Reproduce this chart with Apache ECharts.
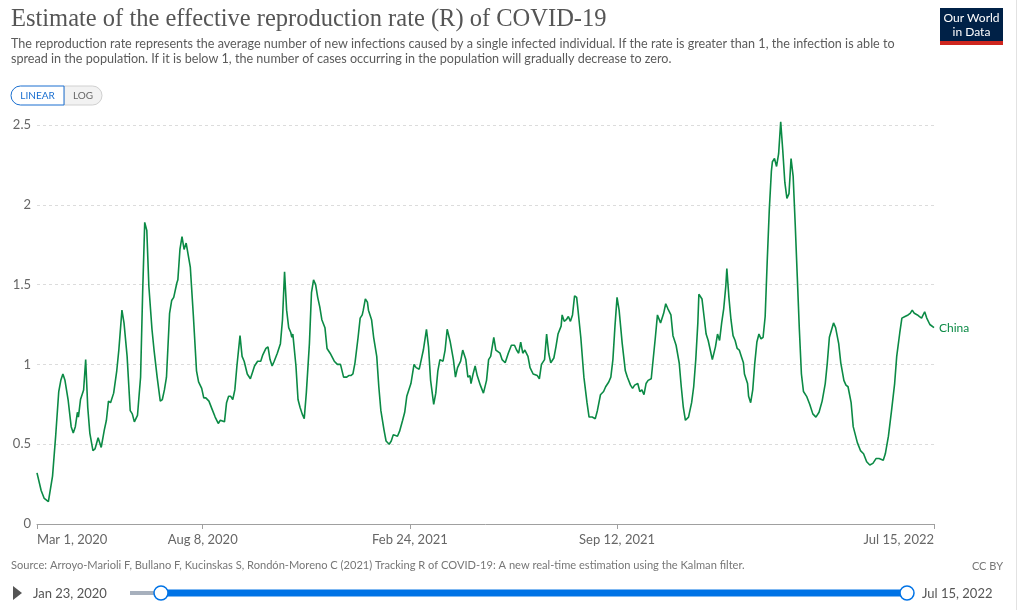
<!DOCTYPE html>
<html>
<head>
<meta charset="utf-8">
<script src="https://cdn.jsdelivr.net/npm/echarts@6/dist/echarts.min.js"></script>
<style>
html,body{margin:0;padding:0;background:#fff;}
#chart{width:1021px;height:610px;}
</style>
</head>
<body>
<div id="chart"></div>
<script>
// ---- Data ----
const START_DATE = '2020-03-01';
const END_DATE = '2022-07-15';
const seriesName = 'China';
// days since START_DATE
const dayOffsets = [0,4,7,11,15,18,21,23,25,27,30,33,35,37,39,40,42,45,47,49,51,54,56,59,62,65,67,69,71,74,77,79,82,84,87,90,92,94,97,100,102,104,106,108,111,113,116,119,121,123,125,128,130,132,135,136,138,140,142,144,145,148,151,154,156,159,161,163,166,169,172,175,177,181,183,185,187,189,191,193,196,198,200,203,206,208,210,213,216,218,221,223,225,227,229,232,235,237,239,241,243,245,246,247,250,252,254,256,258,260,263,265,267,269,271,273,275,278,280,283,287,290,293,296,299,301,303,305,307,310,312,314,315,317,319,320,323,325,328,330,332,335,337,340,342,344,348,350,353,355,357,361,364,366,369,371,373,376,378,380,383,385,387,389,392,394,396,399,402,404,406,409,411,414,416,418,419,421,423,425,428,431,434,436,438,441,443,447,449,452,455,458,461,463,465,467,469,471,474,476,479,483,485,487,490,492,494,496,499,501,503,506,507,509,511,513,515,517,519,521,522,525,528,531,533,536,539,541,544,547,549,552,554,556,558,560,562,565,568,570,573,575,577,580,582,584,586,588,590,593,595,597,599,602,605,607,609,612,614,617,620,622,624,626,629,632,634,636,638,639,642,644,646,648,650,652,655,657,659,661,663,665,666,668,670,672,674,676,678,680,682,683,686,687,689,691,693,695,697,699,701,703,705,707,709,710,712,714,716,718,720,722,724,726,728,730,732,734,736,738,740,743,746,749,752,755,758,761,763,765,769,771,774,776,779,781,783,786,788,792,795,798,801,804,807,810,813,817,819,822,825,828,830,833,835,838,841,843,845,847,850,852,854,857,859,862,866];
const rValues = [0.32,0.21,0.16,0.14,0.30,0.55,0.83,0.90,0.94,0.90,0.78,0.61,0.57,0.61,0.70,0.67,0.78,0.84,1.03,0.73,0.57,0.46,0.47,0.54,0.48,0.59,0.65,0.77,0.76,0.82,0.96,1.09,1.34,1.26,1.05,0.71,0.69,0.64,0.68,0.92,1.45,1.89,1.84,1.49,1.22,1.09,0.92,0.77,0.78,0.84,0.92,1.32,1.40,1.42,1.51,1.53,1.72,1.80,1.72,1.76,1.75,1.61,1.30,0.96,0.89,0.85,0.79,0.79,0.77,0.72,0.67,0.63,0.65,0.64,0.76,0.80,0.80,0.78,0.84,0.99,1.18,1.05,1.02,0.94,0.91,0.95,0.99,1.02,1.02,1.06,1.10,1.11,1.03,0.99,1.02,1.07,1.13,1.28,1.58,1.34,1.23,1.20,1.17,1.19,0.99,0.78,0.73,0.69,0.66,0.82,1.13,1.45,1.53,1.50,1.42,1.36,1.28,1.23,1.10,1.07,1.02,1.00,1.00,0.92,0.92,0.93,0.93,0.94,1.01,1.17,1.29,1.31,1.34,1.41,1.39,1.34,1.28,1.17,1.05,0.86,0.71,0.59,0.52,0.50,0.52,0.56,0.55,0.58,0.65,0.70,0.80,0.88,1.00,0.98,0.97,1.03,1.09,1.22,1.11,0.90,0.75,0.82,0.96,1.03,1.02,1.09,1.22,1.14,1.03,0.92,0.98,1.02,1.09,1.03,0.92,0.93,0.88,0.94,0.99,0.93,0.87,0.82,0.90,1.03,1.05,1.17,1.09,1.07,1.03,1.01,1.07,1.12,1.12,1.09,1.07,1.14,1.07,1.09,1.05,0.98,0.94,0.93,0.91,1.00,1.03,1.19,1.07,1.01,1.04,1.11,1.19,1.24,1.31,1.27,1.28,1.30,1.27,1.31,1.43,1.42,1.36,1.17,0.92,0.76,0.67,0.67,0.66,0.71,0.81,0.83,0.86,0.89,0.92,1.03,1.24,1.42,1.34,1.13,0.96,0.92,0.87,0.85,0.87,0.88,0.83,0.84,0.81,0.88,0.90,0.91,1.04,1.17,1.31,1.26,1.32,1.38,1.35,1.31,1.18,1.12,1.01,0.86,0.73,0.65,0.67,0.76,0.86,1.03,1.26,1.44,1.41,1.30,1.19,1.15,1.09,1.03,1.11,1.19,1.15,1.26,1.35,1.49,1.60,1.42,1.28,1.18,1.15,1.10,1.09,1.05,1.01,0.94,0.88,0.80,0.76,0.84,1.01,1.14,1.19,1.16,1.17,1.30,1.65,1.97,2.21,2.27,2.29,2.24,2.32,2.52,2.34,2.14,2.04,2.07,2.29,2.18,1.88,1.55,1.22,0.94,0.83,0.80,0.75,0.69,0.67,0.70,0.77,0.88,1.01,1.17,1.26,1.23,1.13,1.01,0.90,0.87,0.86,0.76,0.61,0.51,0.46,0.44,0.39,0.37,0.38,0.41,0.41,0.40,0.44,0.55,0.71,0.88,1.05,1.20,1.29,1.30,1.31,1.32,1.34,1.32,1.31,1.30,1.29,1.33,1.29,1.25,1.23];
const xTickDates = ['2020-03-01','2020-08-08','2021-02-24','2021-09-12','2022-07-15'];
const yTicks = [0, 0.5, 1, 1.5, 2, 2.5];

// ---- Build ----
const DAY = 86400000;
const startMs = Date.parse(START_DATE + 'T00:00:00Z');
const endMs = Date.parse(END_DATE + 'T00:00:00Z');
const lineData = dayOffsets.map((d, i) => [startMs + d * DAY, rValues[i]]);
const tickMs = xTickDates.map(s => Date.parse(s + 'T00:00:00Z'));
const MONTHS = ['Jan','Feb','Mar','Apr','May','Jun','Jul','Aug','Sep','Oct','Nov','Dec'];
function fmtDate(ms){ const d = new Date(ms); return MONTHS[d.getUTCMonth()] + ' ' + d.getUTCDate() + ', ' + d.getUTCFullYear(); }

const GREEN = '#0b8a45';
const FONT = 'Lato, "Noto Sans", sans-serif';

const chart = echarts.init(document.getElementById('chart'), null, {renderer:'canvas'});
const option = {
  animation: false,
  backgroundColor: '#fff',
  grid: { left: 37, right: 87, top: 125, bottom: 86, containLabel: false },
  xAxis: {
    type: 'value',
    min: startMs, max: endMs,
    axisLine: { show: true, lineStyle: { color: '#a0a0a0', width: 1 } },
    axisTick: { show: true, customValues: tickMs, length: 5, lineStyle: { color: '#a0a0a0' } },
    axisLabel: {
      customValues: tickMs,
      formatter: v => fmtDate(v),
      color: '#666', fontSize: 13, fontFamily: FONT, margin: 9,
      alignMinLabel: 'left', alignMaxLabel: 'right', hideOverlap: false
    },
    splitLine: { show: false }
  },
  yAxis: {
    type: 'value', min: 0, max: 2.5, interval: 0.5,
    axisLine: { show: false }, axisTick: { show: false },
    axisLabel: { color: '#666', fontSize: 13, fontFamily: FONT, margin: 6, formatter: v => String(v) },
    splitLine: { show: true, lineStyle: { color: '#dcdcdc', type: [3, 3], width: 1 } }
  },
  series: [{
    name: seriesName,
    type: 'line',
    data: lineData,
    showSymbol: false,
    clip: false,
    lineStyle: { color: GREEN, width: 1.6 },
    itemStyle: { color: GREEN },
    endLabel: { show: true, formatter: seriesName, color: GREEN, fontSize: 12, fontFamily: FONT, distance: 5 }
  }],
  graphic: [
    { type: 'text', left: 11, top: 7, style: { text: 'Estimate of the effective reproduction rate (R) of COVID-19', fill: '#555', font: '24.5px "Liberation Serif", "DejaVu Serif", serif' } },
    { type: 'text', left: 11, top: 37, style: { text: 'The reproduction rate represents the average number of new infections caused by a single infected individual. If the rate is greater than 1, the infection is able to', fill: '#5b5b5b', font: '12.6px Lato, sans-serif' } },
    { type: 'text', left: 11, top: 52, style: { text: 'spread in the population. If it is below 1, the number of cases occurring in the population will gradually decrease to zero.', fill: '#5b5b5b', font: '12.6px Lato, sans-serif' } },
    { type: 'rect', shape: { x: 64, y: 86, width: 38, height: 19, r: [0, 10, 10, 0] }, style: { fill: '#f2f2f2', stroke: '#d0d0d0', lineWidth: 1 } },
    { type: 'rect', shape: { x: 11, y: 86, width: 53, height: 19, r: [10, 0, 0, 10] }, style: { fill: '#fff', stroke: '#1a6fd0', lineWidth: 1 } },
    { type: 'text', x: 37.5, y: 96, style: { text: 'LINEAR', fill: '#1a6fd0', font: '10px Lato, sans-serif', align: 'center', verticalAlign: 'middle' } },
    { type: 'text', x: 83, y: 96, style: { text: 'LOG', fill: '#666', font: '10px Lato, sans-serif', align: 'center', verticalAlign: 'middle' } },
    { type: 'rect', shape: { x: 940, y: 8, width: 63, height: 33 }, style: { fill: '#002147' } },
    { type: 'rect', shape: { x: 940, y: 41, width: 63, height: 4 }, style: { fill: '#ce261e' } },
    { type: 'text', x: 971.5, y: 18, style: { text: 'Our World', fill: '#fff', font: '12px Lato, sans-serif', align: 'center', verticalAlign: 'middle' } },
    { type: 'text', x: 971.5, y: 32, style: { text: 'in Data', fill: '#fff', font: '12px Lato, sans-serif', align: 'center', verticalAlign: 'middle' } },
    { type: 'text', left: 11, top: 560, style: { text: 'Source: Arroyo-Marioli F, Bullano F, Kucinskas S, Rondón-Moreno C (2021) Tracking R of COVID-19: A new real-time estimation using the Kalman filter.', fill: '#777', font: '11.1px Lato, sans-serif' } },
    { type: 'text', x: 1003, y: 566, style: { text: 'CC BY', fill: '#777', font: '11px Lato, sans-serif', align: 'right', verticalAlign: 'middle' } },
    { type: 'polygon', shape: { points: [[13, 586], [22, 593], [13, 600]] }, style: { fill: '#555' } },
    { type: 'text', x: 33, y: 594, style: { text: 'Jan 23, 2020', fill: '#555', font: '13px Lato, sans-serif', verticalAlign: 'middle' } },
    { type: 'rect', shape: { x: 130, y: 591, width: 32, height: 4 }, style: { fill: '#a7b0bd' } },
    { type: 'rect', shape: { x: 161, y: 589.5, width: 746, height: 7 }, style: { fill: '#0073e6' } },
    { type: 'circle', shape: { cx: 161, cy: 593, r: 7 }, style: { fill: '#fff', stroke: '#0073e6', lineWidth: 1.5 } },
    { type: 'circle', shape: { cx: 907, cy: 593, r: 7 }, style: { fill: '#fff', stroke: '#0073e6', lineWidth: 1.5 } },
    { type: 'text', x: 922, y: 594, style: { text: 'Jul 15, 2022', fill: '#555', font: '13px Lato, sans-serif', verticalAlign: 'middle' } },
    { type: 'line', shape: { x1: 1016.5, y1: 0, x2: 1016.5, y2: 610 }, style: { stroke: '#e2e2e2', lineWidth: 1 } }
  ]
};
chart.setOption(option);
</script>
</body>
</html>
